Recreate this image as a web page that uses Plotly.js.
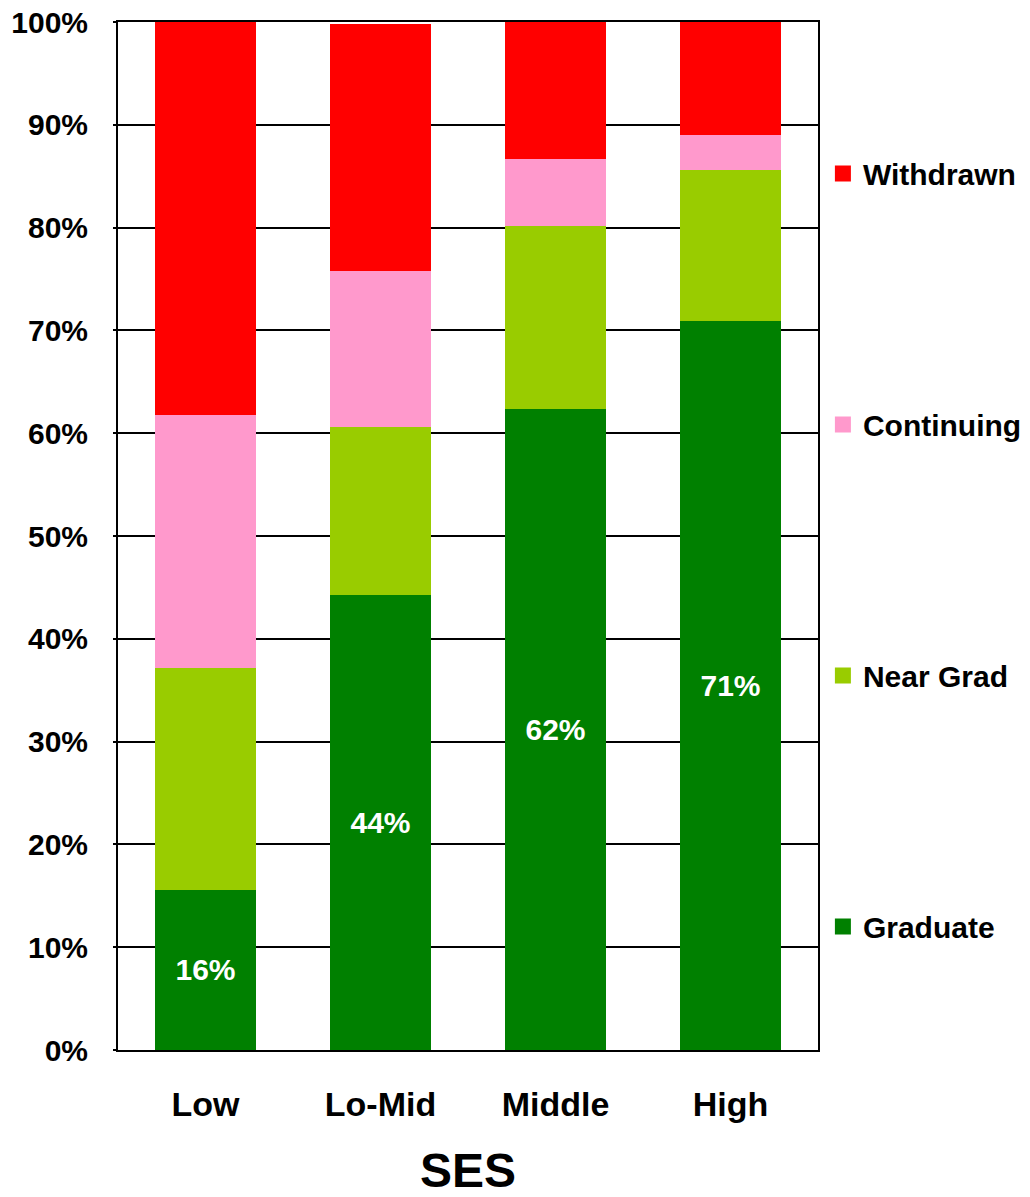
<!DOCTYPE html>
<html>
<head>
<meta charset="utf-8">
<script src="https://cdn.plot.ly/plotly-3.0.1.min.js"></script>
<style>html,body{margin:0;padding:0;background:#fff;}#chart{width:1030px;height:1197px;}</style>
</head>
<body>
<div id="chart"></div>
<script>
const categories = ["Low", "Lo-Mid", "Middle", "High"];
const graduate = [15.6, 44.3, 62.4, 70.9];
const nearGrad = [21.6, 16.3, 17.8, 14.7];
const continuing = [24.6, 15.2, 6.5, 3.4];
const withdrawn = [38.2, 24.0, 13.3, 11.0];
const graduateLabels = ["16%", "44%", "62%", "71%"];
const yTickVals = [0, 10, 20, 30, 40, 50, 60, 70, 80, 90, 100];
const yTickText = ["0%", "10%", "20%", "30%", "40%", "50%", "60%", "70%", "80%", "90%", "100%"];

const seriesNames = ["Graduate", "Near Grad", "Continuing", "Withdrawn"];
const seriesValues = [graduate, nearGrad, continuing, withdrawn];
const seriesColors = ["#008000", "#99CC00", "#FF99CC", "#FF0000"];

const FONT = "Liberation Sans, Arial, sans-serif";

const traces = [];
seriesNames.forEach((name, i) => {
  const t = {
    type: "bar",
    name: name,
    x: categories,
    y: seriesValues[i],
    marker: {color: seriesColors[i], line: {width: 0}},
    showlegend: false,
    hoverinfo: "skip"
  };
  if (i === 0) {
    t.text = graduateLabels;
    t.textposition = "inside";
    t.insidetextanchor = "middle";
    t.textangle = 0;
    t.textfont = {family: FONT, size: 30, color: "#ffffff", weight: "bold"};
  } else {
    t.textposition = "none";
  }
  traces.push(t);
});
// legend entries, top to bottom: Withdrawn, Continuing, Near Grad, Graduate
for (let i = seriesNames.length - 1; i >= 0; i--) {
  traces.push({
    type: "scatter",
    mode: "markers",
    name: seriesNames[i],
    x: [null],
    y: [null],
    marker: {symbol: "square", size: 20, color: seriesColors[i]},
    legendgroup: "g" + i,
    showlegend: true,
    hoverinfo: "skip"
  });
}

const layout = {
  width: 1030,
  height: 1197,
  margin: {l: 118, r: 212, t: 22, b: 147, pad: 0, autoexpand: false},
  paper_bgcolor: "#ffffff",
  plot_bgcolor: "#ffffff",
  barmode: "stack",
  bargap: 0.423,
  font: {family: FONT, size: 30, color: "#000000", weight: "bold"},
  xaxis: {
    type: "category",
    tickfont: {family: FONT, size: 34, color: "#000", weight: "bold"},
    ticks: "",
    showgrid: false,
    showline: true,
    linecolor: "#000",
    linewidth: 2,
    mirror: true,
    ticklabelstandoff: 23,
    title: {text: "SES", font: {family: FONT, size: 48, color: "#000", weight: "bold"}, standoff: 47},
    fixedrange: true
  },
  yaxis: {
    range: [0, 100],
    tickvals: yTickVals,
    ticktext: yTickText,
    tickfont: {family: FONT, size: 30, color: "#000", weight: "bold"},
    ticks: "outside",
    ticklen: 3,
    tickcolor: "#000",
    tickwidth: 2,
    ticklabelstandoff: 19,
    showgrid: true,
    gridcolor: "#000",
    gridwidth: 2,
    zeroline: false,
    showline: true,
    linecolor: "#000",
    linewidth: 2,
    mirror: true,
    fixedrange: true
  },
  legend: {
    x: 1.007,
    xanchor: "left",
    y: 0.878,
    yanchor: "top",
    traceorder: "grouped",
    tracegroupgap: 209,
    font: {family: FONT, size: 30, color: "#000", weight: "bold"},
    bgcolor: "rgba(0,0,0,0)",
    itemwidth: 30
  },
  showlegend: true
};

Plotly.newPlot("chart", traces, layout, {displayModeBar: false, staticPlot: true});
</script>
</body>
</html>
